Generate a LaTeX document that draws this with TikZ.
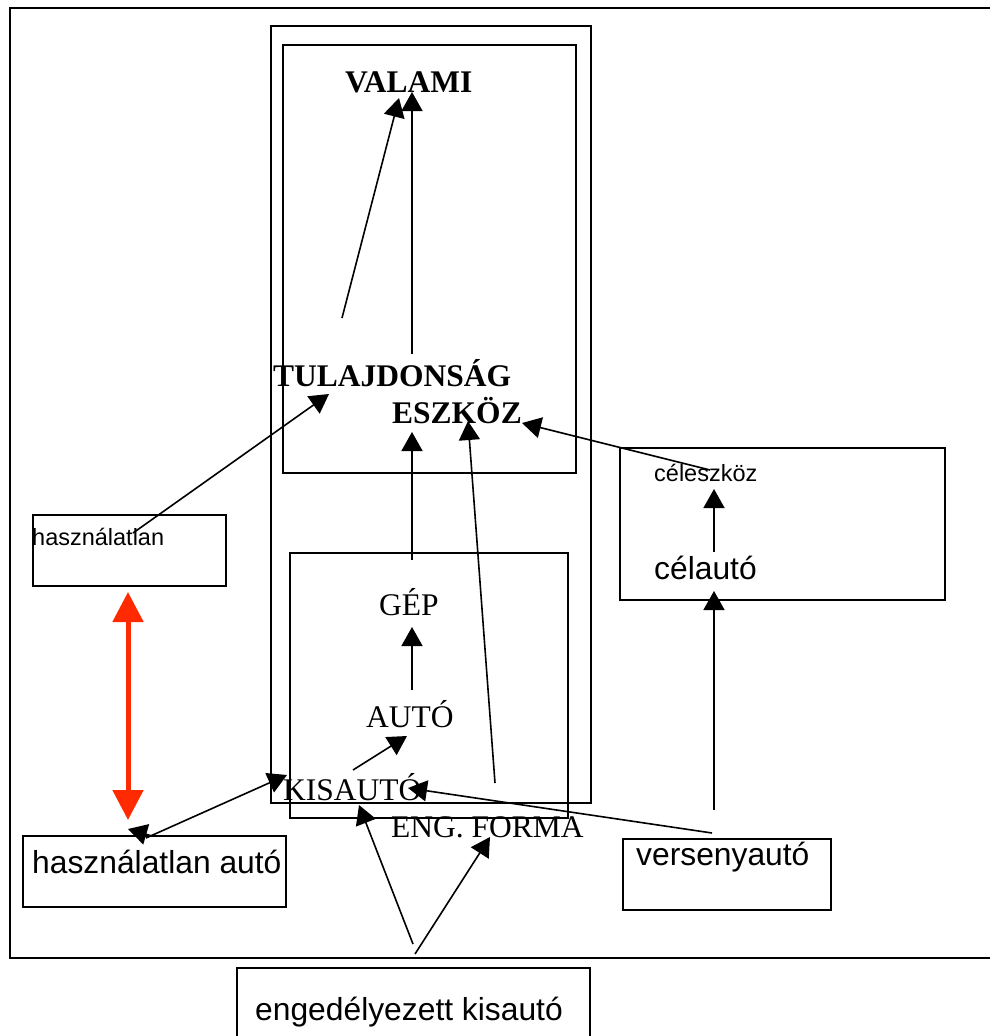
\documentclass[tikz,border=0pt]{standalone}
\usepackage{fontspec}
\setmainfont{Liberation Serif}
\newfontfamily\arialf{Liberation Sans}
\usetikzlibrary{arrows.meta}
\definecolor{redarr}{HTML}{FF2A00}
\begin{document}
\begin{tikzpicture}[x=1pt,y=-1pt,
  frame/.style={draw=black,line width=1.6pt},
  serifbold/.style={inner sep=0pt,anchor=base west,font=\fontsize{31.5}{31.5}\selectfont\bfseries},
  serifreg/.style={inner sep=0pt,anchor=base west,font=\fontsize{31.5}{31.5}\selectfont},
  sanssmall/.style={inner sep=0pt,anchor=base west,font=\arialf\fontsize{23.5}{24}\selectfont},
  sanslarge/.style={inner sep=0pt,anchor=base west,font=\arialf\fontsize{31.8}{32}\selectfont},
  arr/.style={line width=1.6pt,-{Triangle[length=19pt,width=21pt]}},
  redarrow/.style={draw=redarr,line width=5pt,{Triangle[length=30pt,width=30pt]}-{Triangle[length=30pt,width=30pt]}}
]
\useasboundingbox (0,0) rectangle (989,1036);
% outer frame
\draw[frame] (995,8) -- (10,8) -- (10,958) -- (995,958);
% boxes
\draw[frame] (271,26) rectangle (591,803);
\draw[frame] (283,45) rectangle (576,473);
\draw[frame] (290,553) rectangle (568,818);
\draw[frame] (33,515) rectangle (226,586);
\draw[frame] (620,448) rectangle (945,600);
\draw[frame] (23,836) rectangle (286,907);
\draw[frame] (623,839) rectangle (831,910);
\draw[frame] (237,1040) -- (237,968) -- (590,968) -- (590,1040);
% texts
\node[serifbold] (valami) at (345,92) {VALAMI};
\node[serifbold] (tulaj) at (273,386) {TULAJDONSÁG};
\node[serifbold] (eszkoz) at (392,423) {ESZKÖZ};
\node[serifreg] (gep) at (379,615) {GÉP};
\node[serifreg] (auto) at (366,727) {AUTÓ};
\node[serifreg] (kisauto) at (283,800) {KISAUTÓ};
\node[serifreg] (engforma) at (391,837) {ENG. FORMA};
\node[sanssmall] (haszn) at (32,545) {használatlan};
\node[sanssmall] (celeszk) at (654,481) {céleszköz};
\node[sanslarge] (celauto) at (654,579) {célautó};
\node[sanslarge] (hasznauto) at (32,873) {használatlan autó};
\node[sanslarge] (verseny) at (636,865) {versenyautó};
\node[sanslarge] (engkis) at (255,1020) {engedélyezett kisautó};
% connector end points
\coordinate (t1a) at (342,318); \coordinate (h1a) at (399,98);
\coordinate (t1b) at (412,354); \coordinate (h1b) at (412,92);
\coordinate (t2) at (133,533);  \coordinate (h2) at (329,394);
\coordinate (t3) at (412,560);  \coordinate (h3) at (412,432);
\coordinate (t4) at (495,783);  \coordinate (h4) at (468,421);
\coordinate (t5) at (710,470);  \coordinate (h5) at (522,423);
\coordinate (t6) at (714,552);  \coordinate (h6) at (714,489);
\coordinate (t7) at (714,810);  \coordinate (h7) at (714,591);
\coordinate (t8) at (412,690);  \coordinate (h8) at (412,627);
\coordinate (t9) at (353,770);  \coordinate (h9) at (407,736);
\coordinate (t10) at (712,833); \coordinate (h10) at (408,788);
\coordinate (t11) at (146,838); \coordinate (h11) at (287,775);
\coordinate (t12) at (152,836); \coordinate (h12) at (128,829);
\coordinate (t13) at (413,944); \coordinate (h13) at (359,805);
\coordinate (t14) at (415,954); \coordinate (h14) at (490,837);
\coordinate (r1) at (128,592);  \coordinate (r2) at (128,820);
% connectors
\draw[arr] (t1a) -- (h1a);
\draw[arr] (t1b) -- (h1b);
\draw[arr] (t2) -- (h2);
\draw[arr] (t3) -- (h3);
\draw[arr] (t4) -- (h4);
\draw[arr] (t5) -- (h5);
\draw[arr] (t6) -- (h6);
\draw[arr] (t7) -- (h7);
\draw[arr] (t8) -- (h8);
\draw[arr] (t9) -- (h9);
\draw[arr] (t10) -- (h10);
\draw[arr] (t11) -- (h11);
\draw[arr] (t12) -- (h12);
\draw[arr] (t13) -- (h13);
\draw[arr] (t14) -- (h14);
\draw[redarrow] (r1) -- (r2);
\end{tikzpicture}
\end{document}
